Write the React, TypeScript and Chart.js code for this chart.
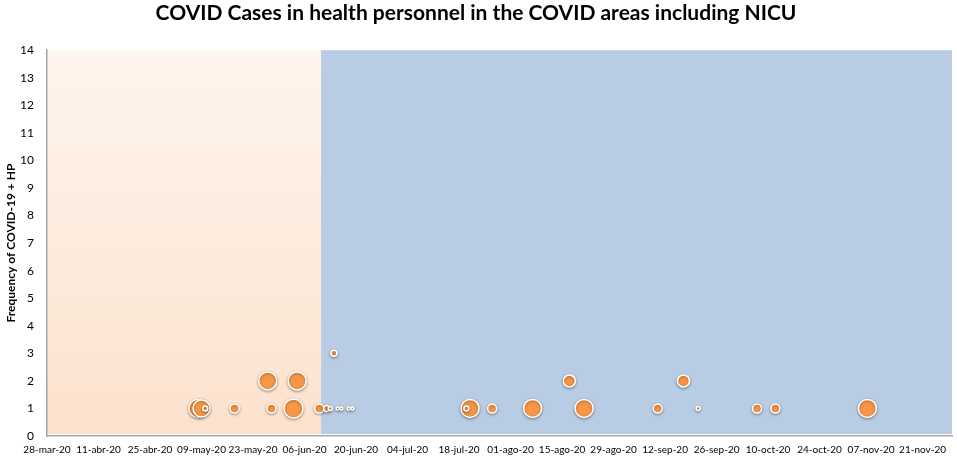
import React, { useEffect, useRef } from 'react';
import Chart from 'chart.js/auto';

const CHART_TITLE = 'COVID Cases in health personnel in the COVID areas including NICU';
const Y_TITLE = 'Frequency of COVID-19 + HP';

const START_DATE = '2020-03-28';
const END_DATE = '2020-11-29';
const SPLIT_DATE = '2020-06-10T12:00:00Z';

const TICK_LABELS = [
  '28-mar-20', '11-abr-20', '25-abr-20', '09-may-20', '23-may-20', '06-jun-20',
  '20-jun-20', '04-jul-20', '18-jul-20', '01-ago-20', '15-ago-20', '29-ago-20',
  '12-sep-20', '26-sep-20', '10-oct-20', '24-oct-20', '07-nov-20', '21-nov-20',
];

const CASE_DATES = [
  '2020-05-08', '2020-05-09', '2020-05-10', '2020-05-18', '2020-05-27', '2020-06-04',
  '2020-05-28', '2020-06-03', '2020-06-10', '2020-06-12', '2020-06-13', '2020-06-14',
  '2020-06-15', '2020-06-16', '2020-06-18', '2020-06-19', '2020-07-21', '2020-07-20',
  '2020-07-27', '2020-08-07', '2020-08-17', '2020-08-21', '2020-09-10', '2020-09-17',
  '2020-09-21', '2020-10-07', '2020-10-12', '2020-11-06',
];
const CASE_COUNTS = [1, 1, 1, 1, 2, 2, 1, 1, 1, 1, 1, 3, 1, 1, 1, 1, 1, 1, 1, 1, 2, 1, 1, 2, 1, 1, 1, 1];
const CASE_SIZES = [9, 8.5, 2.5, 4.5, 9, 9, 4.5, 9.5, 4.5, 3, 2, 3, 1.5, 1.5, 1.5, 1.5, 9, 2.5, 4.5, 9, 6, 9, 4.5, 6, 2, 4.5, 4.5, 9];

const DAY = 86400000;
const toDay = (d: string) => (Date.parse(d) - Date.parse(START_DATE)) / DAY;

const backgroundPlugin = {
  id: 'regions',
  beforeDraw(chart: any) {
    const { ctx, chartArea } = chart;
    const xs = chart.scales.x;
    const split = xs.getPixelForValue(toDay(SPLIT_DATE));
    ctx.save();
    const grad = ctx.createLinearGradient(0, chartArea.top, 0, chartArea.bottom);
    grad.addColorStop(0, '#FEF5EE');
    grad.addColorStop(1, '#FCE2CD');
    ctx.fillStyle = grad;
    ctx.fillRect(chartArea.left, chartArea.top, split - chartArea.left, chartArea.bottom - chartArea.top - 2);
    ctx.fillStyle = '#B8CCE4';
    ctx.fillRect(split, chartArea.top, chartArea.right - split, chartArea.bottom - chartArea.top - 2);
    ctx.restore();
  },
  beforeDatasetsDraw(chart: any) {
    const ctx = chart.ctx;
    ctx.save();
    ctx.shadowColor = 'rgba(0,0,0,0.35)';
    ctx.shadowBlur = 3;
    ctx.shadowOffsetY = 1;
  },
  afterDatasetsDraw(chart: any) {
    chart.ctx.restore();
  },
};

const App: React.FC = () => {
  const canvasRef = useRef<HTMLCanvasElement | null>(null);

  useEffect(() => {
    document.body.style.margin = '0';
    if (!canvasRef.current) return;
    const points = CASE_DATES.map((d, i) => ({ x: toDay(d), y: CASE_COUNTS[i], r: CASE_SIZES[i] }));
    const chart = new Chart(canvasRef.current, {
      type: 'bubble',
      data: {
        datasets: [
          {
            data: points,
            backgroundColor: '#F79646',
            borderColor: '#FFFFFF',
            borderWidth: 1.5,
          },
        ],
      },
      options: {
        animation: false,
        responsive: true,
        maintainAspectRatio: false,
        layout: { autoPadding: false, padding: { left: 0, right: 5, top: 0, bottom: 0 } },
        plugins: {
          legend: { display: false },
          tooltip: { enabled: false },
          title: {
            display: true,
            text: CHART_TITLE,
            color: '#000',
            font: { family: 'Lato', size: 21, weight: 'bold' },
            padding: { top: 1, bottom: 24 },
          },
        },
        scales: {
          x: {
            type: 'linear',
            min: 0,
            max: toDay(END_DATE),
            grid: { display: false, drawTicks: false },
            border: { color: '#A6A6A6', width: 1.5 },
            ticks: {
              stepSize: 14,
              includeBounds: false,
              autoSkip: false,
              maxRotation: 0,
              padding: 8,
              color: '#000',
              font: { family: 'Lato', size: 10 },
              callback: (_v: any, i: number) => TICK_LABELS[i],
            },
            afterFit: (s: any) => { s.height = 25; },
          },
          y: {
            min: 0,
            max: 14,
            grid: { display: false, drawTicks: false },
            border: { color: '#A6A6A6', width: 1.5 },
            ticks: {
              stepSize: 1,
              padding: 13,
              color: '#000',
              font: { family: 'Lato', size: 12 },
            },
            title: {
              display: true,
              text: Y_TITLE,
              color: '#000',
              font: { family: 'Lato', size: 12, weight: 'bold' },
              padding: { top: 4, bottom: 0 },
            },
            afterFit: (s: any) => { s.width = 47; },
          },
        },
      },
      plugins: [backgroundPlugin],
    });
    return () => chart.destroy();
  }, []);

  return (
    <div style={{ width: 957, height: 461, position: 'relative' }}>
      <canvas ref={canvasRef} />
    </div>
  );
};

export default App;
